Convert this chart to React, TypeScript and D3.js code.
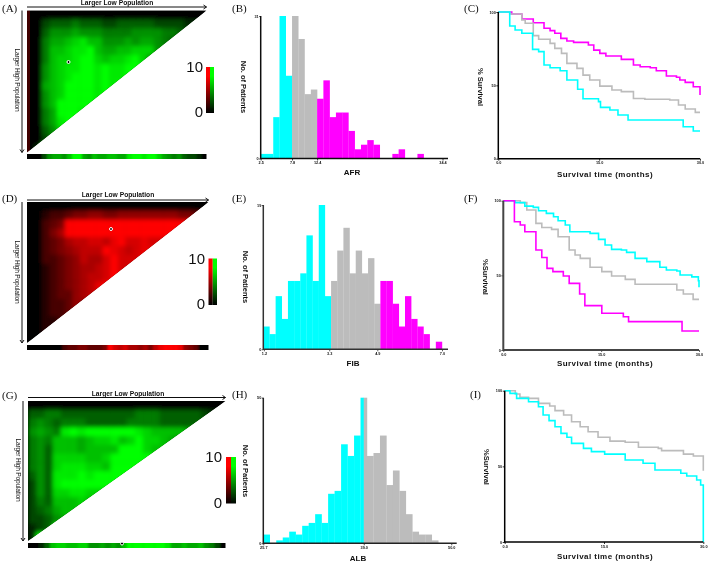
import * as React from 'react';
import * as d3 from 'd3';

const CYAN = '#00ffff';
const GREY = '#bcbcbc';
const MAGENTA = '#ff00ff';

// X-tile grids, one hex-ish digit per cell (a = 10), a short row repeats its last cell
const heatA = [
    '000000000000000000000000',
    '002333433322333332222110',
    '0035556555444455554432',
    '004667897755565665431',
    '00477899a766778885',
    '0047889aa87889a85',
    '0057899aa9a99aaa9',
    '005789aaa9a99aa',
    '00678aaaa9a9aa',
    '00578aaaa9aaa',
    '0057aaaaa9aa',
    '0046aaa9aa',
    '00469aaaa',
    '0035899a',
    '0024a',
    '01a',
];
const heatD = [
    '000000000000000000000000',
    '001223445544555555554431',
    '00234aaaaaaaaaaaaaaaaa',
    '00246aaaaaaaaaaaaaaa',
    '002346778879a88988',
    '0023456777a98789',
    '00223457668a888a',
    '00123456678a88a',
    '00123456778a9',
    '0012345679a',
    '0012335678a',
    '001223559',
    '00122358',
    '001125',
    '0011',
    '00',
];
const heatG = [
    '000000000000000000000000',
    '334433333333344433333210',
    '454344433333444433333',
    '56549a9aaaaaa9877776',
    '4547776788978a8876554',
    '45377767777aaa87765',
    '4538888778aaaaa9a8',
    '4538999887aaaaa9',
    '353999a9aaaaaaa',
    '2539aaaaaaaaa',
    '2538899887a',
    '2437778777',
    '23467777',
    '22356a',
    '123a',
    '1a',
];
const stripA = [0, 0, 0, 2, 5, 6, 6, 5, 7, 10, 10, 6, 5, 7, 6, 6, 7, 7, 6, 6, 9, 10, 10, 9, 10, 10, 8, 6, 5, 4, 5, 3, 2, 2, 1, 0];
const stripD = [0, 0, 0, 0, 0, 0, 0, 2, 3, 3, 4, 4, 3, 3, 3, 4, 10, 8, 7, 8, 6, 6, 5, 6, 4, 7, 9, 10, 10, 10, 9, 5, 4, 3, 0, 0];
const stripG = [0, 0, 1, 3, 7, 8, 8, 7, 7, 8, 8, 5, 5, 6, 5, 6, 5, 7, 10, 10, 10, 10, 10, 10, 10, 9, 6, 6, 7, 6, 6, 7, 5, 4, 2, 0];

// histogram counts per bin
const countsAFR = [1, 1, 9, 31, 18, 31, 26, 14, 15, 13, 17, 9, 10, 10, 6, 2, 3, 4, 3, 0, 0, 1, 2, 0, 0, 1];
const countsFIB = [3, 2, 7, 4, 9, 9, 10, 15, 9, 19, 7, 9, 13, 16, 10, 13, 10, 12, 6, 9, 9, 6, 3, 7, 4, 3, 2, 0, 1];
const countsALB = [3, 0, 1, 2, 4, 3, 6, 7, 10, 7, 17, 18, 34, 30, 37, 50, 30, 31, 37, 20, 25, 18, 10, 4, 3, 3, 1];

// survival steps: [month, % surviving from that month on]
type Step = [number, number];
const survCHigh: Step[] = [[0, 100], [2, 98.6], [3.5, 95.2], [5.2, 92.7], [6.8, 88.9], [7.7, 87.3], [8.4, 85.5], [9.3, 82], [10.2, 80.2], [11.2, 79.3], [13.4, 77.5], [14.2, 74], [15.1, 71.8], [16, 70], [18.3, 67.7], [20.1, 63.9], [21.1, 62.7], [22.6, 62], [23.5, 60], [25, 56.4], [26.5, 55.5], [27, 53.6], [27.8, 52], [29, 49], [30, 43.4]];
const survCMid: Step[] = [[0, 100], [1.7, 98.6], [3.5, 94.5], [4, 92.3], [5.2, 83.9], [6, 81.4], [7.7, 78.6], [8.4, 75.2], [9.4, 71.8], [10.2, 65], [11.7, 61.6], [12.6, 57], [13.6, 53.6], [15.1, 49.5], [16.9, 46.8], [18.3, 45.7], [20.1, 41], [21.8, 40.5], [25.5, 40], [26.8, 36.6], [27.8, 33.9], [29.3, 31.6], [30, 31.6]];
const survCLow: Step[] = [[0, 100], [1.7, 90.5], [2.5, 87.7], [3.5, 85.5], [5.1, 74.5], [6, 73], [6.8, 63.9], [7.7, 62], [9.2, 60], [10.2, 53.6], [11.8, 47.3], [12.6, 40.9], [14.9, 38.9], [15.2, 35], [16.6, 33.2], [17.8, 29.8], [19.3, 26.4], [27.5, 21.8], [29, 18.9], [30, 18.9]];

const survFLow: Step[] = [[0, 100], [1.8, 98.7], [3.3, 96.4], [4.6, 95.5], [5.4, 93.3], [6.6, 91.5], [7.7, 89.3], [8.4, 86.6], [9.5, 83.7], [10.2, 79.2], [13.3, 78.1], [14.6, 74.1], [15.6, 70.3], [16.6, 67.4], [18.1, 67], [18.9, 65.4], [20.2, 61.4], [22, 59.2], [24, 55.4], [25, 53.6], [26.6, 52.9], [27.1, 50.2], [28.9, 49], [29.9, 46.4], [30, 42]];
const survFMid: Step[] = [[0, 100], [2.6, 98.7], [3.6, 93.8], [5, 84.8], [5.9, 82.1], [7.4, 80.8], [8.4, 75.9], [10.1, 67], [11, 63.6], [11.8, 61.4], [13.3, 55.4], [15.1, 52.5], [16.6, 49.6], [18.7, 47.3], [20.2, 44], [25.5, 44], [26.6, 40.2], [27.6, 37.5], [29.1, 33.9], [30, 33.9]];
const survFHigh: Step[] = [[0, 100], [1.7, 85.9], [2.6, 83.7], [3.3, 79.2], [5, 67], [5.9, 62], [6.7, 54.7], [7.6, 52.5], [9.2, 49.6], [10.1, 44.6], [11.7, 37.5], [12.5, 29.7], [15.1, 24.6], [18.4, 22.3], [19.2, 19], [27.4, 12.7], [30, 12.7]];

const survIMid: Step[] = [[0, 100], [1.6, 97.8], [2.3, 95.6], [3.6, 94.9], [5.1, 91.6], [6.8, 89.9], [7.6, 86.8], [8.9, 83.9], [10.1, 79.5], [11.4, 76.2], [12.6, 72.9], [14.1, 69.2], [15.9, 66.7], [18.2, 65.9], [20.2, 62.6], [23.2, 61.9], [23.7, 60.4], [27, 58.1], [28.5, 56.8], [30, 47.1]];
const survILow: Step[] = [[0, 100], [0.8, 98.2], [1.8, 94.9], [3.6, 92.7], [5.1, 89.4], [5.8, 83.9], [6.7, 80.2], [7.6, 76.2], [8.5, 71.8], [9.4, 69.2], [10.1, 65.2], [11.9, 61.9], [13.1, 59.7], [15.1, 58.1], [18.2, 54.2], [20.9, 52], [22.7, 47.6], [26.6, 45.4], [27.5, 43.6], [29, 41], [29.6, 37.7], [30, 35], [30, 0]];

const panelLabels: [string, number, number][] = [
    ['(A)', 2, 12], ['(B)', 232, 12], ['(C)', 464, 12],
    ['(D)', 2, 202], ['(E)', 232, 202], ['(F)', 464, 202],
    ['(G)', 2, 399], ['(H)', 232, 398], ['(I)', 470, 398],
];

const heatPanels = [
    { grid: heatA, strip: stripA, hot: '#00ff00', left: 27, right: 206.5, top: 10.5, bottom: 152.5, stripY: 154, bar: [206, 67, 8, 46], topText: [117, 5], arrowY: 7, sideX: 16, sideY: 80, barLabelX: 203, dot: [68.5, 62], edge: true },
    { grid: heatD, strip: stripD, hot: '#ff0000', left: 27, right: 208.5, top: 202, bottom: 343, stripY: 345, bar: [208.5, 258.5, 8.5, 46.5], topText: [118, 196.5], arrowY: 200, sideX: 16, sideY: 272, barLabelX: 205, dot: [111, 229], edge: false },
    { grid: heatG, strip: stripG, hot: '#00ff00', left: 28, right: 225.5, top: 401, bottom: 541, stripY: 543, bar: [226, 457, 10, 46.5], topText: [128, 395.5], arrowY: 397.5, sideX: 17, sideY: 470, barLabelX: 222, dot: [122, 543.5], edge: false },
];

const histPanels = [
    { counts: countsAFR, title: 'AFR', x0: 260.7, x1: 423.7, axisEnd: 448, base: 158.5, top: 16, cuts: [5, 9], ticks: [0, 5, 9, 29], tickText: ['2.5', '7.8', '12.4', '34.4'], titleX: 352, titleY: 175, ylabX: 244, ylabY: 87, axisColor: '#111' },
    { counts: countsFIB, title: 'FIB', x0: 263.3, x1: 442, axisEnd: 448, base: 349.3, top: 205, cuts: [11, 19], ticks: [0.1, 10.7, 18.5, 29], tickText: ['1.2', '3.3', '4.9', '7.0'], titleX: 353, titleY: 366, ylabX: 246, ylabY: 277, axisColor: '#333' },
    { counts: countsALB, title: 'ALB', x0: 263.3, x1: 438.3, axisEnd: 456.7, base: 543.3, top: 397.7, cuts: [15.5, 27], ticks: [0, 15.5, 29], tickText: ['25.7', '39.0', '50.0'], titleX: 358, titleY: 560.5, ylabX: 246, ylabY: 471, axisColor: '#222' },
];

const kmPanels = [
    { curves: [[survCHigh, MAGENTA], [survCMid, GREY], [survCLow, CYAN]], left: 498.3, right: 700, top: 12, bottom: 158.7, ylab: '% Survival', ylabX: 481, ylabY: 87, titleY: 177, axisColor: '#000', axisWidth: 1.5 },
    { curves: [[survFMid, GREY], [survFLow, CYAN], [survFHigh, MAGENTA]], left: 503.3, right: 699, top: 200.7, bottom: 350, ylab: '%Survival', ylabX: 486, ylabY: 277, titleY: 366, axisColor: '#444', axisWidth: 2 },
    { curves: [[survIMid, GREY], [survILow, CYAN]], left: 504.7, right: 703.3, top: 390.7, bottom: 542, ylab: '%Survival', ylabX: 487, ylabY: 467, titleY: 559, axisColor: '#000', axisWidth: 1.5 },
];

const SANS = 'Liberation Sans, Arial, sans-serif';

const App: React.FunctionComponent = () => {
    const ref = React.useRef<SVGSVGElement>(null);

    React.useEffect(() => {
        if (!ref.current) {
            return;
        }
        const svg = d3.select(ref.current);
        svg.selectAll('*').remove();

        const defs = svg.append('defs');
        const soft = defs.append('filter').attr('id', 'soft').attr('filterUnits', 'userSpaceOnUse')
            .attr('x', 0).attr('y', 0).attr('width', 709).attr('height', 562);
        soft.append('feGaussianBlur').attr('stdDeviation', 0.4);
        const heatBlur = defs.append('filter').attr('id', 'heatBlur').attr('x', '-5%').attr('y', '-5%').attr('width', '110%').attr('height', '110%');
        heatBlur.append('feGaussianBlur').attr('stdDeviation', 2);
        const stripBlur = defs.append('filter').attr('id', 'stripBlur').attr('x', '-5%').attr('y', '-50%').attr('width', '110%').attr('height', '200%');
        stripBlur.append('feGaussianBlur').attr('stdDeviation', '1.2 0');

        ['#ff0000', '#00ff00'].forEach((c, i) => {
            const g = defs.append('linearGradient').attr('id', `bar${i}`).attr('x1', 0).attr('x2', 0).attr('y1', 1).attr('y2', 0);
            g.append('stop').attr('offset', '0%').attr('stop-color', '#000');
            g.append('stop').attr('offset', '80%').attr('stop-color', c);
            g.append('stop').attr('offset', '100%').attr('stop-color', c);
        });

        const root = svg.append('g').attr('filter', 'url(#soft)');
        root.append('rect').attr('width', 709).attr('height', 562).attr('fill', '#fff');

        const text = (s: string, x: number, y: number, size: number, weight: string, anchor = 'middle', rotate = false, family = SANS) => {
            const t = root.append('text').text(s)
                .attr('font-family', family).attr('font-size', size).attr('font-weight', weight)
                .attr('text-anchor', anchor).attr('fill', '#111');
            if (rotate) {
                t.attr('transform', `translate(${x},${y}) rotate(90)`);
            } else {
                t.attr('x', x).attr('y', y);
            }
            return t;
        };

        panelLabels.forEach(([s, x, y]) => text(s, x, y, 11, 'normal', 'start', false, 'Liberation Serif, serif'));

        heatPanels.forEach((p, pi) => {
            const color = d3.scalePow<string>().exponent(0.8).domain([0, 10]).range(['#000000', p.hot]);
            const nRows = p.grid.length;
            const nCols = p.grid[0].length;
            const x = d3.scaleLinear().domain([0, nCols]).range([p.left, p.right]);
            const y = d3.scaleLinear().domain([0, nRows]).range([p.top, p.bottom]);
            const cells = d3.range(nRows).flatMap(r => d3.range(nCols).map(c => {
                const row = p.grid[r];
                return { r, c, v: parseInt(row[Math.min(c, row.length - 1)], 16) };
            }));

            const tri = `M${p.left},${p.top}L${p.right},${p.top}L${p.left},${p.bottom}Z`;
            defs.append('clipPath').attr('id', `tri${pi}`).append('path').attr('d', tri);
            const clipped = root.append('g').attr('clip-path', `url(#tri${pi})`);
            clipped.append('path').attr('d', tri).attr('fill', '#000');
            clipped.append('g').attr('filter', 'url(#heatBlur)')
                .selectAll('rect').data(cells).join('rect')
                .attr('x', d => x(d.c)).attr('y', d => y(d.r))
                .attr('width', x(1) - x(0) + 0.5).attr('height', y(1) - y(0) + 0.5)
                .attr('fill', d => color(d.v));
            if (p.edge) {
                clipped.append('rect').attr('x', p.left).attr('y', p.top).attr('width', 3).attr('height', p.bottom - p.top)
                    .attr('fill', '#ff0000').attr('opacity', 0.25);
            }

            // best-cut strip under the triangle
            const sx = d3.scaleLinear().domain([0, p.strip.length]).range([p.left, p.right]);
            defs.append('clipPath').attr('id', `strip${pi}`).append('rect')
                .attr('x', p.left).attr('y', p.stripY).attr('width', p.right - p.left).attr('height', 5);
            const stripG_ = root.append('g').attr('clip-path', `url(#strip${pi})`);
            stripG_.append('rect').attr('x', p.left).attr('y', p.stripY).attr('width', p.right - p.left).attr('height', 5).attr('fill', '#000');
            stripG_.append('g').attr('filter', 'url(#stripBlur)')
                .selectAll('rect').data(p.strip).join('rect')
                .attr('x', (_, i) => sx(i)).attr('y', p.stripY).attr('width', sx(1) - sx(0) + 0.5).attr('height', 5)
                .attr('fill', d => color(d));

            // arrows and titles
            const ink = '#111';
            root.append('path').attr('fill', 'none').attr('stroke', ink).attr('stroke-width', 1)
                .attr('d', `M${p.left},${p.arrowY}H${p.right}M${p.right - 3},${p.arrowY - 2}L${p.right},${p.arrowY}L${p.right - 3},${p.arrowY + 2}`);
            const ax = p.left - 5;
            root.append('path').attr('fill', 'none').attr('stroke', ink).attr('stroke-width', 1)
                .attr('d', `M${ax},${p.top}V${p.bottom}M${ax - 2},${p.bottom - 3}L${ax},${p.bottom}L${ax + 2},${p.bottom - 3}`);
            text('Larger Low Population', p.topText[0], p.topText[1], 6.7, 'bold');
            text('Larger High Population', p.sideX - 1, p.sideY, 6.6, 'normal', 'middle', true).attr('letter-spacing', -0.2);

            // colour key
            const [bx, by, bw, bh] = p.bar;
            root.append('rect').attr('x', bx).attr('y', by).attr('width', bw / 2).attr('height', bh).attr('fill', 'url(#bar0)');
            root.append('rect').attr('x', bx + bw / 2).attr('y', by).attr('width', bw / 2).attr('height', bh).attr('fill', 'url(#bar1)');
            text('10', p.barLabelX, by + 5, 15, 'normal', 'end');
            text('0', p.barLabelX, by + bh + 4, 15, 'normal', 'end');

            root.append('circle').attr('cx', p.dot[0]).attr('cy', p.dot[1]).attr('r', 1.5)
                .attr('fill', '#000').attr('stroke', '#fff').attr('stroke-width', 1);
        });

        const styleAxis = (g: d3.Selection<SVGGElement, unknown, null, undefined>, color: string) => {
            g.select('.domain').remove();
            g.selectAll('line').attr('stroke', color).attr('stroke-width', 0.8);
            g.selectAll('text').attr('font-family', SANS).attr('font-size', 3.8).attr('font-weight', 'bold').attr('fill', '#111');
        };

        histPanels.forEach(p => {
            const n = p.counts.length;
            const x = d3.scaleLinear().domain([0, n]).range([p.x0, p.x1]);
            const y = d3.scaleLinear().domain([0, d3.max(p.counts) as number]).range([p.base, p.top]);
            const segs = [
                { from: 0, to: p.cuts[0], fill: CYAN },
                { from: p.cuts[0], to: p.cuts[1], fill: GREY },
                { from: p.cuts[1], to: n, fill: MAGENTA },
            ];
            segs.forEach(s => {
                root.append('g').selectAll('rect')
                    .data(p.counts.map((v, i) => ({ v, i })).filter(d => d.v > 0 && d.i + 1 > s.from && d.i < s.to))
                    .join('rect')
                    .attr('x', d => x(Math.max(d.i, s.from)))
                    .attr('width', d => x(Math.min(d.i + 1, s.to)) - x(Math.max(d.i, s.from)) + 0.2)
                    .attr('y', d => y(d.v))
                    .attr('height', d => p.base - y(d.v))
                    .attr('fill', s.fill);
            });

            root.append('path').attr('fill', 'none').attr('stroke', p.axisColor).attr('stroke-width', 1.5)
                .attr('d', `M${p.x0},${p.top}V${p.base}H${p.axisEnd}`);
            const xAxis = root.append('g').attr('transform', `translate(0,${p.base})`)
                .call(d3.axisBottom(x).tickValues(p.ticks).tickFormat((_, i) => p.tickText[i]).tickSize(2).tickPadding(1));
            styleAxis(xAxis as any, p.axisColor);
            const yAxis = root.append('g').attr('transform', `translate(${p.x0},0)`)
                .call(d3.axisLeft(y).tickValues([0, d3.max(p.counts) as number]).tickSize(1.5).tickPadding(0.5));
            styleAxis(yAxis as any, p.axisColor);

            text(p.title, p.titleX, p.titleY, 8, 'bold');
            text('No. of Patients', p.ylabX - 3, p.ylabY, 7.5, 'bold', 'middle', true);
        });

        kmPanels.forEach(p => {
            const x = d3.scaleLinear().domain([0, 30]).range([p.left, p.right]);
            const y = d3.scaleLinear().domain([0, 100]).range([p.bottom, p.top]);
            const line = d3.line<Step>().x(d => x(d[0])).y(d => y(d[1])).curve(d3.curveStepAfter);
            p.curves.forEach(([data, color]) => {
                root.append('path').attr('d', line(data as Step[])).attr('fill', 'none')
                    .attr('stroke', color as string).attr('stroke-width', 1.6);
            });
            root.append('path').attr('fill', 'none').attr('stroke', p.axisColor).attr('stroke-width', p.axisWidth)
                .attr('d', `M${p.left},${p.top}V${p.bottom}H${p.right}`);
            const xAxis = root.append('g').attr('transform', `translate(0,${p.bottom})`)
                .call(d3.axisBottom(x).tickValues([0, 15, 30]).tickFormat(d => (d as number).toFixed(1)).tickSize(2).tickPadding(1));
            styleAxis(xAxis as any, p.axisColor);
            const yAxis = root.append('g').attr('transform', `translate(${p.left},0)`)
                .call(d3.axisLeft(y).tickValues([0, 50, 100]).tickSize(2).tickPadding(0.5));
            styleAxis(yAxis as any, p.axisColor);

            text('Survival time (months)', 605, p.titleY, 8, 'bold').attr('letter-spacing', 0.45);
            text(p.ylab, p.ylabX - 3, p.ylabY, 7.5, 'bold', 'middle', true);
        });
    }, []);

    return <svg ref={ref} width={709} height={562} style={{ position: 'absolute', left: 0, top: 0, display: 'block' }} />;
};

export default App;
